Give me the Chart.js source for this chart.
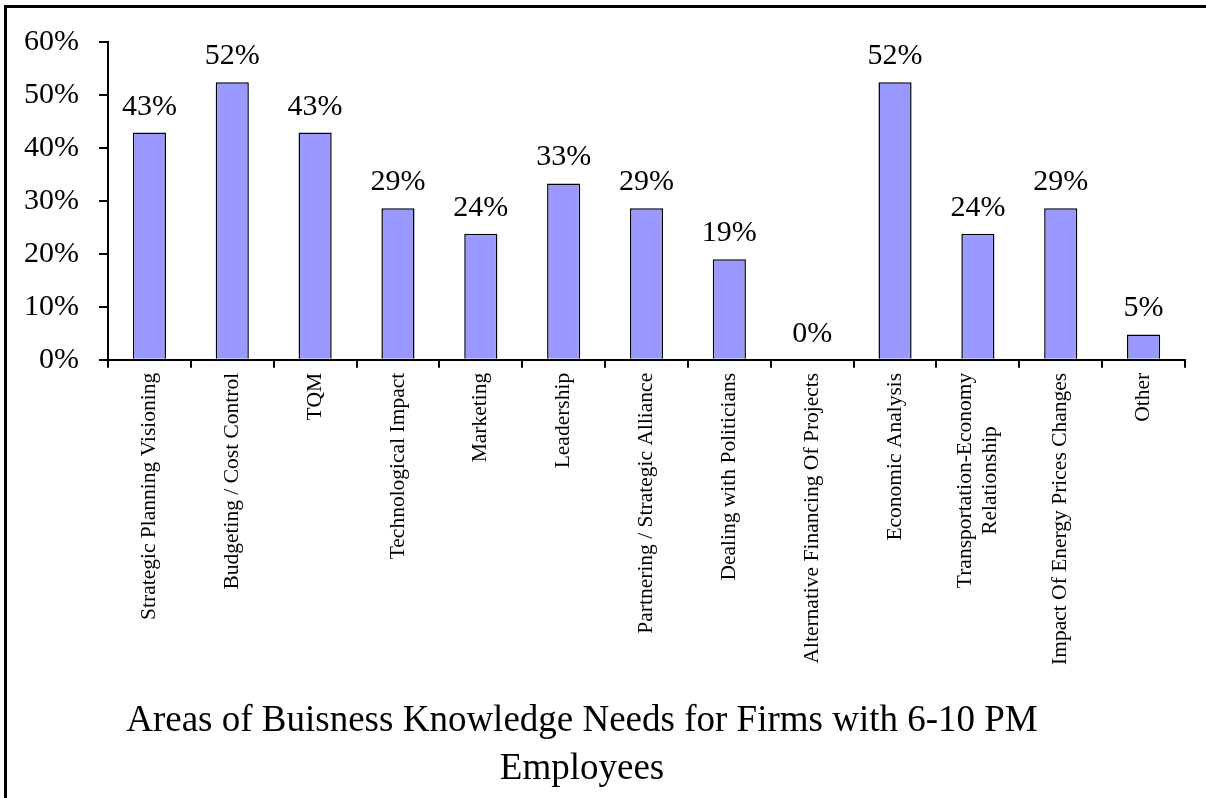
<!DOCTYPE html>
<html>
<head>
<meta charset="utf-8">
<script src="https://cdn.jsdelivr.net/npm/chart.js@4.4.0/dist/chart.umd.min.js"></script>
<style>
  html, body { margin: 0; padding: 0; background: #fff; overflow: hidden; }
  #wrap { position: relative; width: 1206px; height: 798px; }
  #frame {
    position: absolute; left: 4px; top: 5px; width: 1300px; height: 900px;
    border-left: 3px solid #000; border-top: 3px solid #000; pointer-events: none;
  }
</style>
</head>
<body>
<div id="wrap">
  <canvas id="chart" width="1206" height="798"></canvas>
  <div id="frame"></div>
</div>
<script>
const categories = [
  "Strategic Planning Visioning",
  "Budgeting / Cost Control",
  "TQM",
  "Technological Impact",
  "Marketing",
  "Leadership",
  "Partnering / Strategic Alliance",
  "Dealing with Politicians",
  "Alternative Financing Of Projects",
  "Economic Analysis",
  ["Transportation-Economy", "Relationship"],
  "Impact Of Energy Prices Changes",
  "Other",
];
const shares = [42.9, 52.4, 42.9, 28.6, 23.8, 33.3, 28.6, 19.0, 0, 52.4, 23.8, 28.6, 4.8];
const yTicks = [0, 10, 20, 30, 40, 50, 60];

const serif = "'Liberation Serif', 'Times New Roman', serif";

// percentage above each bar
const valueLabels = {
  id: "valueLabels",
  afterDatasetsDraw(chart) {
    const ctx = chart.ctx;
    const meta = chart.getDatasetMeta(0);
    ctx.save();
    ctx.font = "30px " + serif;
    ctx.fillStyle = "#000";
    ctx.textAlign = "center";
    ctx.textBaseline = "alphabetic";
    meta.data.forEach((bar, i) => {
      ctx.fillText(Math.round(shares[i]) + "%", bar.x, bar.y - 18);
    });
    ctx.restore();
  },
};

// vertical category names, multi-line ones centred on each other
const categoryLabels = {
  id: "categoryLabels",
  afterDraw(chart) {
    const ctx = chart.ctx;
    const xs = chart.scales.x;
    const size = 21.5, lh = 25;
    ctx.save();
    ctx.font = size + "px " + serif;
    ctx.fillStyle = "#000";
    ctx.textBaseline = "middle";
    ctx.textAlign = "center";
    categories.forEach((c, i) => {
      const lines = Array.isArray(c) ? c : [c];
      const w = Math.max(...lines.map(l => ctx.measureText(l).width));
      const x = xs.getPixelForValue(i);
      ctx.save();
      ctx.translate(x, xs.top + 13);
      ctx.rotate(-Math.PI / 2);
      lines.forEach((l, j) => {
        ctx.fillText(l, -w / 2, (j - (lines.length - 1) / 2) * lh);
      });
      ctx.restore();
    });
    ctx.restore();
  },
};

new Chart(document.getElementById("chart"), {
  type: "bar",
  data: {
    labels: categories,
    datasets: [{
      data: shares,
      backgroundColor: "#9999ff",
      borderColor: "#000",
      borderWidth: 1.5,
      borderSkipped: "bottom",
      barPercentage: 0.4,
      categoryPercentage: 1,
    }],
  },
  options: {
    responsive: false,
    animation: false,
    layout: { padding: { top: 42, right: 21, left: -21, bottom: 0 } },
    plugins: {
      legend: { display: false },
      tooltip: { enabled: false },
      title: {
        display: true,
        position: "bottom",
        text: ["Areas of Buisness Knowledge Needs for Firms with 6-10 PM", "Employees"],
        color: "#000",
        font: { family: serif, size: 37, weight: "normal", lineHeight: 1.3 },
        padding: { top: 10, bottom: 5 },
      },
    },
    scales: {
      x: {
        grid: { drawOnChartArea: false, drawTicks: true, tickLength: 8, color: "#000", lineWidth: 2 },
        border: { color: "#000", width: 2 },
        ticks: { display: false },
        afterFit(scale) { scale.height = 327; },
      },
      y: {
        min: 0,
        max: 60,
        afterBuildTicks(scale) { scale.ticks = yTicks.map(v => ({ value: v })); },
        grid: { drawOnChartArea: false, drawTicks: true, tickLength: 9, color: "#000", lineWidth: 2 },
        border: { color: "#000", width: 2 },
        ticks: {
          color: "#000",
          font: { family: serif, size: 30 },
          padding: 20,
          callback: v => v + "%",
        },
        afterFit(scale) { scale.width = 129; },
      },
    },
  },
  plugins: [valueLabels, categoryLabels],
});
</script>
</body>
</html>
